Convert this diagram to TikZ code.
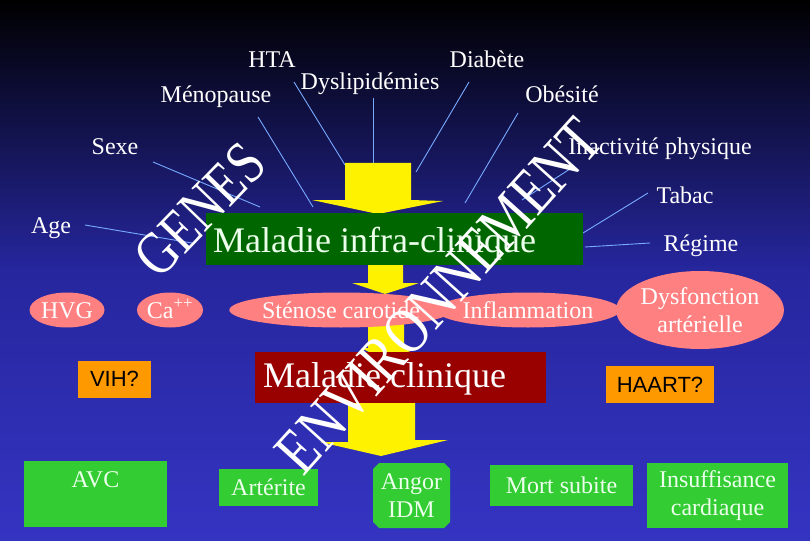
\documentclass[tikz,border=0pt]{standalone}
\usepackage{fontspec}
\setmainfont{Liberation Serif}
\newfontfamily\sansf{Liberation Sans}
\usetikzlibrary{shapes.geometric,shapes.misc}
\definecolor{bgmid}{RGB}{38,38,158}
\definecolor{bgbot}{RGB}{52,52,194}
\definecolor{raycol}{RGB}{120,170,255}
\definecolor{pinkc}{RGB}{255,128,128}
\definecolor{lgreen}{RGB}{51,204,51}
\definecolor{dgreen}{RGB}{0,102,0}
\definecolor{dred}{RGB}{153,0,0}
\definecolor{orangec}{RGB}{255,153,0}
\definecolor{paletxt}{RGB}{235,255,235}
\begin{document}
\begin{tikzpicture}[x=1pt,y=-1pt,
  lbl/.style={text=white,font=\fontsize{24}{28}\selectfont,inner sep=0pt,anchor=base},
  ray/.style={draw=raycol,line width=0.9pt},
  yarrow/.style={fill=yellow},
  pinkell/.style={ellipse,fill=pinkc,inner sep=0pt,text=white,font=\fontsize{24}{28}\selectfont},
  capctr/.style={text height=16pt,text depth=0pt},
  gbox/.style={rectangle,fill=lgreen,inner sep=0pt,text=paletxt,align=center,font=\fontsize{24}{28.5}\selectfont},
  obox/.style={rectangle,fill=orangec,inner sep=0pt,text=black,font=\sansf\fontsize{22}{26}\selectfont},
  bigbox/.style={rectangle,inner sep=0pt},
  bigtxt/.style={inner sep=0pt,anchor=base west,font=\fontsize{36}{40}\selectfont},
  diag/.style={text=white,inner sep=0pt}
]
\useasboundingbox (0,0) rectangle (810,540);
\shade[top color=black, bottom color=bgbot, middle color=bgmid] (0,0) rectangle (810,540);

% ray end points
\coordinate (sx1) at (153,162); \coordinate (sx2) at (260,207);
\coordinate (ag1) at (85,225);  \coordinate (ag2) at (192,243);
\coordinate (mn1) at (258,117); \coordinate (mn2) at (313,207);
\coordinate (ht1) at (294,82);  \coordinate (ht2) at (345,165);
\coordinate (dy1) at (373,98);  \coordinate (dy2) at (373,163);
\coordinate (db1) at (469,82);  \coordinate (db2) at (416,172);
\coordinate (ob1) at (518,113); \coordinate (ob2) at (465,203);
\coordinate (ia1) at (573,167); \coordinate (ia2) at (522,200);
\coordinate (tb1) at (648,193); \coordinate (tb2) at (583,233);
\coordinate (rg1) at (650,243); \coordinate (rg2) at (585,247);
\foreach \a/\b in {sx1/sx2,ag1/ag2,mn1/mn2,ht1/ht2,dy1/dy2,db1/db2,ob1/ob2,ia1/ia2,tb1/tb2,rg1/rg2}
  \draw[ray] (\a) -- (\b);

% yellow block arrows
\fill[yarrow] (345,163) -- (411,163) -- (411,200) -- (443,201) -- (378,214) -- (312,200) -- (345,200) -- cycle;
\fill[yarrow] (368,258) -- (403,258) -- (403,283) -- (419,283) -- (385,294) -- (352,283) -- (368,283) -- cycle;
\fill[yarrow] (368,318) -- (404,318) -- (404,348) -- (419,348) -- (385,360) -- (361,348) -- (368,348) -- cycle;
\fill[yarrow] (348,398) -- (415,398) -- (415,440) -- (448,440) -- (381,456) -- (320,442) -- (348,442) -- cycle;

% main boxes
\node[bigbox,fill=dgreen,minimum width=377,minimum height=52] (infra) at (394.5,239) {};
\node[bigtxt,text=paletxt] (infratxt) at (213,252) {Maladie infra-clinique};
\node[bigbox,fill=dred,minimum width=291,minimum height=51] (clin) at (400.5,377.5) {};
\node[bigtxt,text=white] (clintxt) at (263,387) {Maladie clinique};

% pink ellipses
\node[pinkell,capctr,minimum width=75,minimum height=35] (hvg) at (67,310) {HVG};
\node[pinkell,capctr,minimum width=66,minimum height=35] (ca) at (170,310) {Ca\textsuperscript{++}};
\node[pinkell,capctr,minimum width=200,minimum height=35] (sten) at (341,310) {Sténose carotide};
\node[pinkell,capctr,minimum width=168,minimum height=35] (infl) at (528,310) {Inflammation};
\node[pinkell,align=center,minimum width=166,minimum height=78] (dysf) at (700,310) {Dysfonction\\artérielle};

% orange boxes
\node[obox,minimum width=73,minimum height=37] (vih) at (114.5,379) {VIH?};
\node[obox,minimum width=108,minimum height=37] (haart) at (660,384.5) {HAART?};

% green outcome boxes
\node[gbox,minimum width=143,minimum height=66] (avc) at (95.5,494) {AVC\\[0pt]\mbox{}};
\node[gbox,minimum width=99,minimum height=37] (arte) at (268.5,487.5) {Artérite};
\node[gbox,chamfered rectangle,chamfered rectangle xsep=3pt,chamfered rectangle ysep=3pt,minimum width=77,minimum height=65] (angor) at (411.5,495.5) {Angor\\IDM};
\node[gbox,minimum width=143,minimum height=41] (mort) at (561.5,485.5) {Mort subite};
\node[gbox,minimum width=141,minimum height=65] (insuf) at (717.5,495.5) {Insuffisance\\cardiaque};

% risk factor labels
\node[lbl] (hta) at (272,68) {HTA};
\node[lbl] (diab) at (487,68) {Diabète};
\node[lbl] (dysl) at (370,90) {Dyslipidémies};
\node[lbl] (meno) at (216,103) {Ménopause};
\node[lbl] (obes) at (562,103) {Obésité};
\node[lbl] (sexe) at (115,154) {Sexe};
\node[lbl] (inact) at (660,154) {Inactivité physique};
\node[lbl] (tabac) at (685,203) {Tabac};
\node[lbl] (age) at (51,233) {Age};
\node[lbl] (regime) at (701,251) {Régime};

% big diagonal words
\node[diag,rotate=46,font=\fontsize{49}{54}\selectfont] (genes) at (200,210) {\scalebox{1}[1.25]{GENES}};
\node[diag,rotate=48,font=\fontsize{52}{58}\selectfont] (env) at (439,296) {\scalebox{1}[1.25]{ENVIRONNEMENT}};
\end{tikzpicture}
\end{document}
